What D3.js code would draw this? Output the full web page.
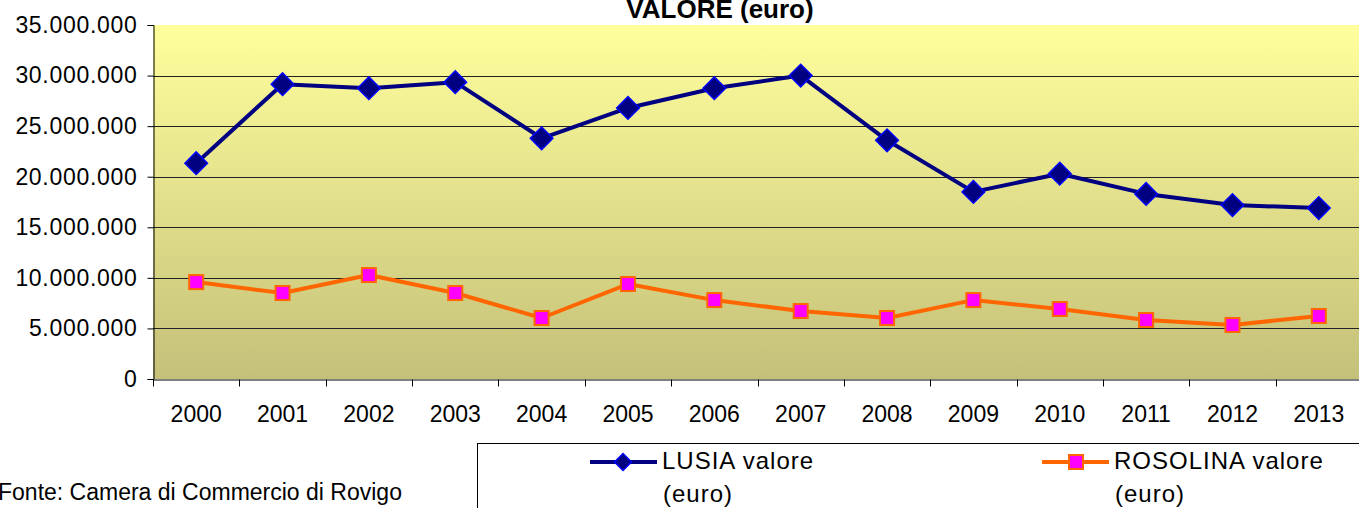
<!DOCTYPE html>
<html>
<head>
<meta charset="utf-8">
<script src="https://cdn.jsdelivr.net/npm/d3@7"></script>
<style>
  body { margin: 0; background: #fff; overflow: hidden; }
  svg { display: block; }
</style>
</head>
<body>
<div id="chart"></div>
<script>
// chart data
const years = ["2000", "2001", "2002", "2003", "2004", "2005", "2006",
               "2007", "2008", "2009", "2010", "2011", "2012", "2013"];
const lusiaValues = [21340000, 29150000, 28750000, 29350000, 23800000, 26800000, 28750000,
                     30000000, 23600000, 18500000, 20300000, 18300000, 17200000, 16900000];
const rosolinaValues = [9580000, 8500000, 10280000, 8500000, 6030000, 9390000, 7800000,
                        6720000, 6030000, 7800000, 6920000, 5830000, 5340000, 6230000];
const yTicks = [0, 5000000, 10000000, 15000000, 20000000, 25000000, 30000000, 35000000];
const seriesNames = ["LUSIA valore", "ROSOLINA valore"];

const width = 1359, height = 508;
const margin = {top: 25, left: 153, bottom: 129, plotRight: 1362};
const chartHeight = height - margin.top - margin.bottom;
const font = "Arial, 'Liberation Sans', sans-serif";

const fmt = v => d3.format(",")(v).replace(/,/g, ".");

const svg = d3.select("#chart").append("svg")
    .attr("width", width)
    .attr("height", height);

// background gradient
const defs = svg.append("defs");
const grad = defs.append("linearGradient")
    .attr("id", "bg").attr("x1", 0).attr("y1", 0).attr("x2", 0).attr("y2", 1);
grad.append("stop").attr("offset", "0%").attr("stop-color", "#FFFF9C");
grad.append("stop").attr("offset", "100%").attr("stop-color", "#C4C07A");

var x = d3.scaleBand()
    .domain(years)
    .range([margin.left, margin.plotRight]);

var y = d3.scaleLinear()
    .domain([0, 35000000])
    .range([margin.top + chartHeight, margin.top]);

svg.append("rect")
    .attr("x", margin.left)
    .attr("y", margin.top)
    .attr("width", margin.plotRight - margin.left)
    .attr("height", chartHeight)
    .attr("fill", "url(#bg)");

// gridlines
svg.append("g")
    .selectAll("line")
    .data(yTicks.filter(d => d > 0 && d < 35000000))
    .enter().append("line")
    .attr("x1", margin.left)
    .attr("x2", margin.plotRight)
    .attr("y1", d => Math.round(y(d)) + 0.5)
    .attr("y2", d => Math.round(y(d)) + 0.5)
    .attr("stroke", "#222")
    .attr("stroke-width", 1);

// y axis
const yAxis = svg.append("g")
    .attr("transform", `translate(${margin.left + 0.5}, 0)`)
    .call(d3.axisLeft(y).tickValues(yTicks).tickFormat(fmt).tickSizeOuter(0).tickSize(6).tickPadding(10));
yAxis.selectAll("text")
    .attr("font-family", font)
    .attr("font-size", 23)
    .attr("letter-spacing", 0.7)
    .attr("fill", "#000");
yAxis.select(".domain").attr("stroke", "#000");
yAxis.selectAll(".tick line").attr("stroke", "#000");

// x axis
const xAxis = svg.append("g")
    .attr("transform", `translate(0, ${margin.top + chartHeight + 0.5})`)
    .call(d3.axisBottom(x).tickSize(0).tickPadding(26).tickSizeOuter(0));
xAxis.selectAll("text")
    .attr("font-family", font)
    .attr("font-size", 23)
    .attr("dy", "0")
    .attr("fill", "#000");
xAxis.select(".domain").attr("stroke", "#000");
xAxis.append("g")
    .selectAll("line")
    .data(years)
    .enter().append("line")
    .attr("x1", d => Math.round(x(d)) + 0.5)
    .attr("x2", d => Math.round(x(d)) + 0.5)
    .attr("y1", 0)
    .attr("y2", 7)
    .attr("stroke", "#000");
xAxis.selectAll(".tick text").attr("y", 42);

// title
svg.append("text")
    .attr("x", 720)
    .attr("y", 18)
    .attr("text-anchor", "middle")
    .attr("font-family", font)
    .attr("font-weight", "bold")
    .attr("font-size", 26)
    .text("VALORE (euro)");

const line = d3.line()
    .x((d, i) => x(years[i]) + x.bandwidth() / 2)
    .y(d => y(d));

// LUSIA
svg.append("path")
    .datum(lusiaValues)
    .attr("fill", "none")
    .attr("stroke", "#000080")
    .attr("stroke-width", 4)
    .attr("stroke-linejoin", "round")
    .attr("d", line);

const diamond = d3.symbol().type(d3.symbolSquare).size(16 * 16);
svg.append("g")
    .selectAll("path")
    .data(lusiaValues)
    .enter().append("path")
    .attr("d", diamond)
    .attr("transform", (d, i) => `translate(${x(years[i]) + x.bandwidth() / 2}, ${y(d)}) rotate(45)`)
    .attr("fill", "#000080")
    .attr("stroke", "#0000FF")
    .attr("stroke-width", 1.5);

// ROSOLINA
svg.append("path")
    .datum(rosolinaValues)
    .attr("fill", "none")
    .attr("stroke", "#FF6600")
    .attr("stroke-width", 4)
    .attr("stroke-linejoin", "round")
    .attr("d", line);

svg.append("g")
    .selectAll("rect")
    .data(rosolinaValues)
    .enter().append("rect")
    .attr("x", (d, i) => x(years[i]) + x.bandwidth() / 2 - 7)
    .attr("y", d => y(d) - 7)
    .attr("width", 14)
    .attr("height", 14)
    .attr("fill", "#FF00FF")
    .attr("stroke", "#FF6600")
    .attr("stroke-width", 2);

// legend
svg.append("rect")
    .attr("x", 477.5)
    .attr("y", 443.5)
    .attr("width", 900)
    .attr("height", 80)
    .attr("fill", "#fff")
    .attr("stroke", "#000")
    .attr("stroke-width", 1);

const legendItems = [
    {name: seriesNames[0], x0: 590, stroke: "#000080"},
    {name: seriesNames[1], x0: 1042, stroke: "#FF6600"}
];
const lg = svg.append("g")
    .selectAll("g")
    .data(legendItems)
    .enter().append("g")
    .attr("transform", d => `translate(${d.x0}, 462)`);
lg.append("line")
    .attr("x1", 0).attr("x2", 67)
    .attr("stroke", d => d.stroke)
    .attr("stroke-width", 4);
lg.filter((d, i) => i === 0).append("path")
    .attr("d", d3.symbol().type(d3.symbolSquare).size(12 * 12))
    .attr("transform", "translate(33, 0) rotate(45)")
    .attr("fill", "#000080")
    .attr("stroke", "#0000FF")
    .attr("stroke-width", 1.5);
lg.filter((d, i) => i === 1).append("rect")
    .attr("x", 27).attr("y", -7).attr("width", 14).attr("height", 14)
    .attr("fill", "#FF00FF")
    .attr("stroke", "#FF6600")
    .attr("stroke-width", 2);
const lt = lg.append("text")
    .attr("font-family", font)
    .attr("font-size", 24)
    .attr("letter-spacing", 1)
    .attr("fill", "#000");
lt.append("tspan").attr("x", 72).attr("y", 7).text(d => d.name);
lt.append("tspan").attr("x", 73).attr("y", 40).text("(euro)");

// source note
svg.append("text")
    .attr("x", -2)
    .attr("y", 500)
    .attr("font-family", font)
    .attr("font-size", 23)
    .attr("fill", "#000")
    .text("Fonte: Camera di Commercio di Rovigo");
</script>
</body>
</html>
